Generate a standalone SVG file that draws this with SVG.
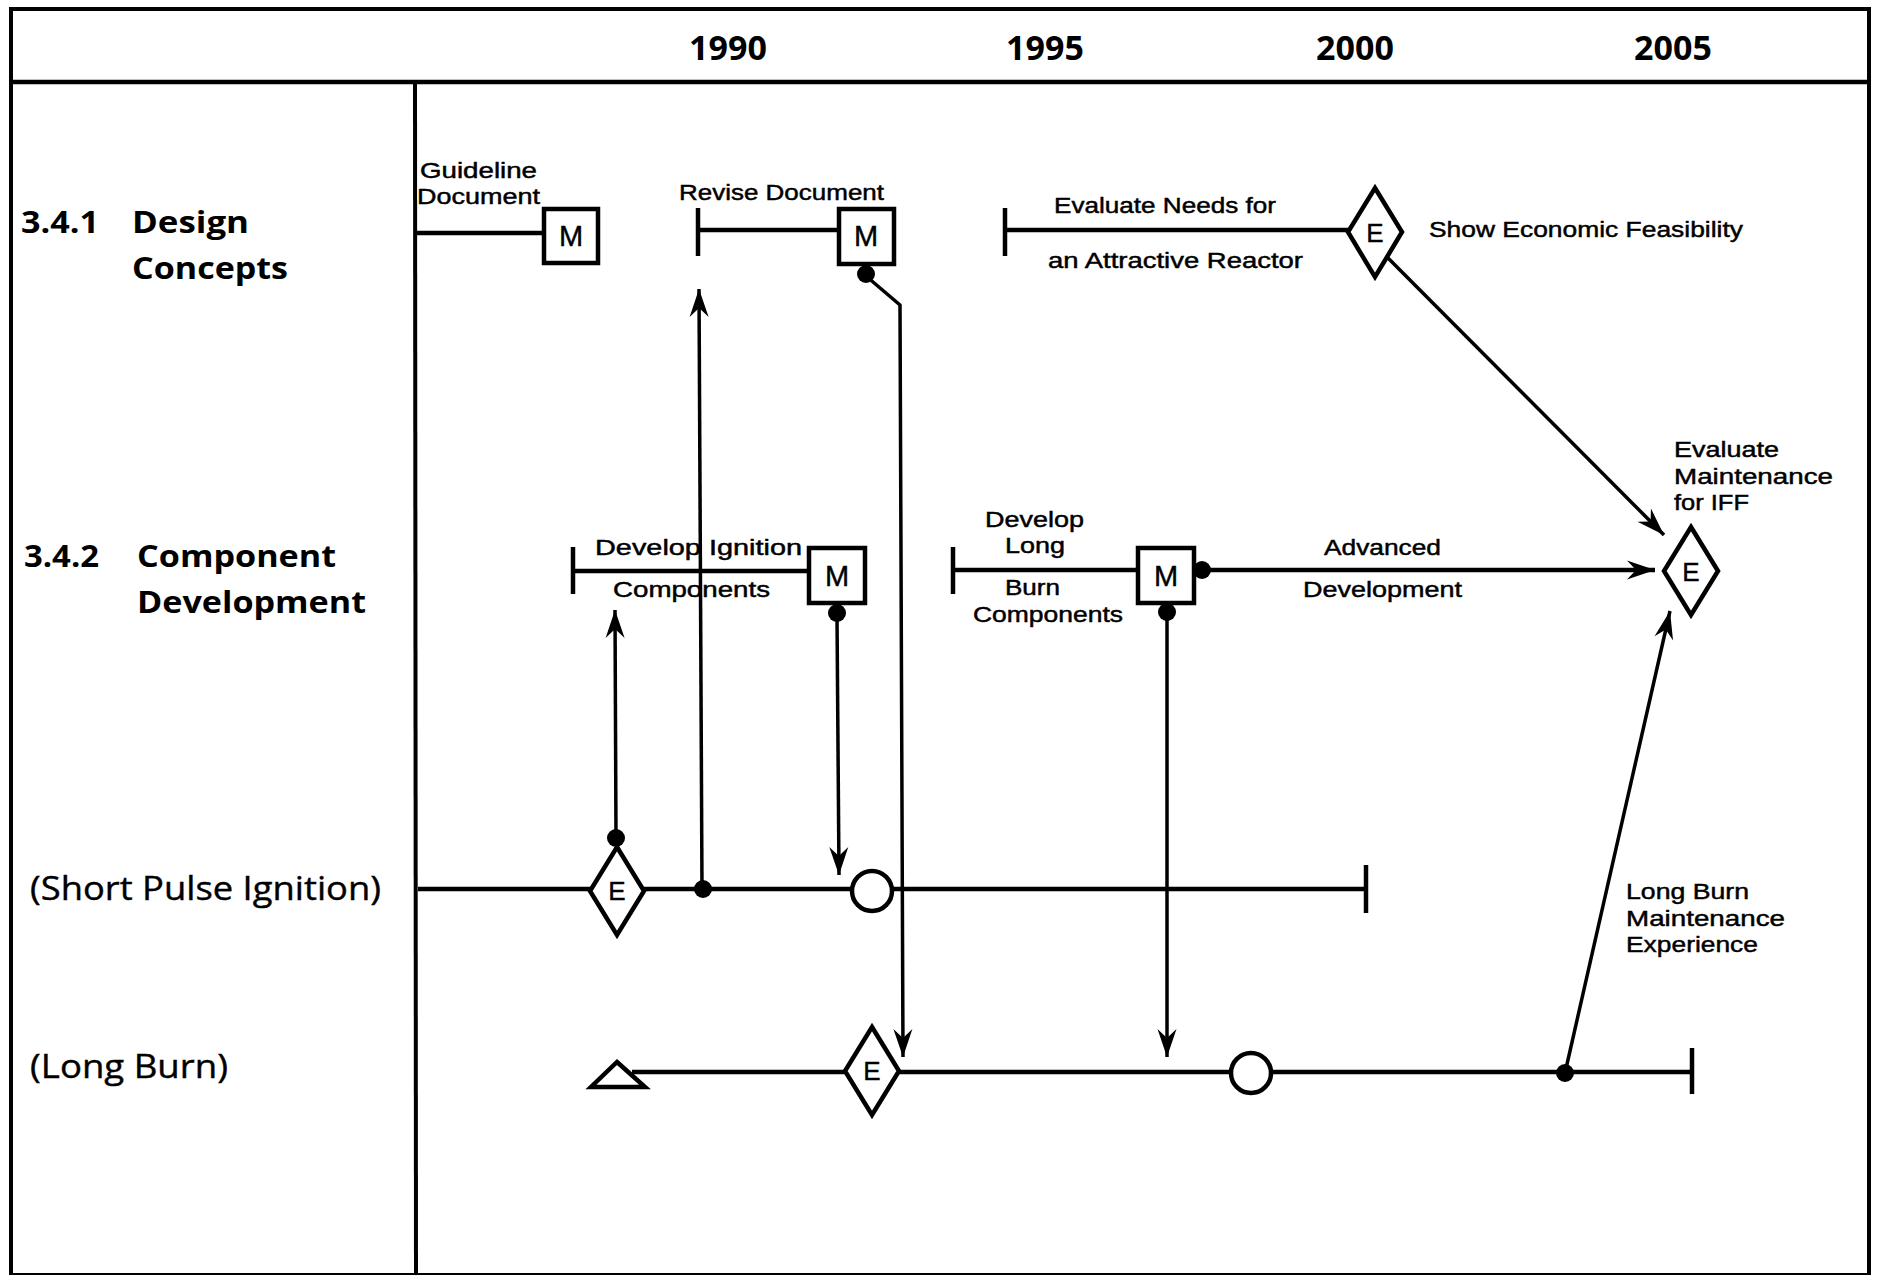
<svg xmlns="http://www.w3.org/2000/svg" width="1884" height="1275" viewBox="0 0 1884 1275">
<style>
  .t{font-family:"Open Sans","Liberation Sans",sans-serif;fill:#000}
  .yr{font-size:34px;font-weight:bold;text-anchor:middle}
  .hd{font-size:31px;font-weight:bold}
  .rl{font-size:32px;stroke:#000;stroke-width:0.4}
  .sm{font-family:"Liberation Sans",Arial,sans-serif;font-size:21.5px;stroke:#000;stroke-width:0.45}
  .nl{font-family:"Liberation Sans",Arial,sans-serif;font-size:29px;text-anchor:middle;stroke:#000;stroke-width:0.4}
  .el{font-size:26px}
  .ln{stroke:#000;stroke-width:4.5;fill:none}
  .cn{stroke:#000;stroke-width:3.5;fill:none}
  .bx{stroke:#000;stroke-width:4.5;fill:#fff}
  .dot{fill:#000}
</style>
<defs>
  <marker id="arr" markerUnits="userSpaceOnUse" markerWidth="32" markerHeight="22" viewBox="-30 -11 32 22" refX="0" refY="0" orient="auto">
    <path d="M0,0 L-28,-9.5 L-19,0 L-28,9.5 Z" fill="#000"/>
  </marker>
</defs>
<rect width="1884" height="1275" fill="#fff"/>
<g id="frame">
  <rect x="11" y="9" width="1858" height="1266" fill="none" stroke="#000" stroke-width="4"/>
  <line x1="11" y1="82" x2="1869" y2="82" stroke="#000" stroke-width="4.5"/>
  <line x1="415" y1="82" x2="416" y2="1275" stroke="#000" stroke-width="4"/>
</g>
<g id="years">
  <text class="t yr" x="728" y="60">1990</text>
  <text class="t yr" x="1045" y="60">1995</text>
  <text class="t yr" x="1355" y="60">2000</text>
  <text class="t yr" x="1673" y="60">2005</text>
</g>
<g id="row-labels">
  <text class="t hd" x="21" y="233" textLength="78" lengthAdjust="spacingAndGlyphs">3.4.1</text>
  <text class="t hd" x="132" y="233" textLength="117" lengthAdjust="spacingAndGlyphs">Design</text>
  <text class="t hd" x="132" y="279" textLength="156" lengthAdjust="spacingAndGlyphs">Concepts</text>
  <text class="t hd" x="24" y="567" textLength="75" lengthAdjust="spacingAndGlyphs">3.4.2</text>
  <text class="t hd" x="137" y="567" textLength="199" lengthAdjust="spacingAndGlyphs">Component</text>
  <text class="t hd" x="137" y="613" textLength="229" lengthAdjust="spacingAndGlyphs">Development</text>
  <text class="t rl" x="30" y="900" textLength="351" lengthAdjust="spacingAndGlyphs">(Short Pulse Ignition)</text>
  <text class="t rl" x="30" y="1078" textLength="198" lengthAdjust="spacingAndGlyphs">(Long Burn)</text>
</g>
<g id="bars">
  <line class="ln" x1="416" y1="233" x2="544" y2="233"/>
  <line class="ln" x1="698" y1="208" x2="698" y2="256"/>
  <line class="ln" x1="698" y1="230" x2="839" y2="230"/>
  <line class="ln" x1="1005" y1="208" x2="1005" y2="256"/>
  <line class="ln" x1="1005" y1="230" x2="1348" y2="230"/>
  <line class="ln" x1="573" y1="547" x2="573" y2="594"/>
  <line class="ln" x1="573" y1="571" x2="809" y2="571"/>
  <line class="ln" x1="953" y1="547" x2="953" y2="594"/>
  <line class="ln" x1="953" y1="570" x2="1138" y2="570"/>
  <line class="ln" x1="418" y1="889" x2="590" y2="889"/>
  <line class="ln" x1="644" y1="889" x2="852" y2="889"/>
  <line class="ln" x1="892" y1="889" x2="1366" y2="889"/>
  <line class="ln" x1="1366" y1="865" x2="1366" y2="913"/>
  <line class="ln" x1="632" y1="1072" x2="845" y2="1072"/>
  <line class="ln" x1="899" y1="1072" x2="1232" y2="1072"/>
  <line class="ln" x1="1270" y1="1072" x2="1692" y2="1072"/>
  <line class="ln" x1="1692" y1="1048" x2="1692" y2="1094"/>
</g>
<g id="connectors">
  <line class="cn" x1="702" y1="889" x2="699" y2="289" marker-end="url(#arr)"/>
  <polyline class="cn" points="866,276 900,305 903,1057" marker-end="url(#arr)"/>
  <line class="cn" x1="837" y1="617" x2="839" y2="875" marker-end="url(#arr)"/>
  <line class="cn" x1="616" y1="838" x2="615" y2="610" marker-end="url(#arr)"/>
  <line class="cn" x1="1167" y1="613" x2="1167" y2="1057" marker-end="url(#arr)"/>
  <line class="ln" x1="1203" y1="570" x2="1655" y2="570" marker-end="url(#arr)"/>
  <line class="cn" x1="1387" y1="257" x2="1664" y2="535" marker-end="url(#arr)"/>
  <line class="cn" x1="1565" y1="1073" x2="1670" y2="611" marker-end="url(#arr)"/>
  <circle class="dot" cx="866" cy="274" r="9"/>
  <circle class="dot" cx="837" cy="613" r="9"/>
  <circle class="dot" cx="616" cy="838" r="9"/>
  <circle class="dot" cx="703" cy="889" r="9"/>
  <circle class="dot" cx="1167" cy="612" r="9"/>
  <circle class="dot" cx="1202" cy="570" r="9"/>
  <circle class="dot" cx="1565" cy="1073" r="9"/>
</g>
<g id="m-guideline">
  <rect class="bx" x="544" y="209" width="54" height="54"/>
  <text class="t nl" x="571" y="246">M</text>
</g>
<g id="m-revise">
  <rect class="bx" x="839" y="209" width="55" height="55"/>
  <text class="t nl" x="866" y="246">M</text>
</g>
<g id="e-feasibility">
  <polygon class="bx" points="1375,188 1402,232 1375,277 1348,232"/>
  <text class="t nl el" x="1375" y="242">E</text>
</g>
<g id="m-ignition">
  <rect class="bx" x="809" y="548" width="56" height="55"/>
  <text class="t nl" x="837" y="586">M</text>
</g>
<g id="m-longburn">
  <rect class="bx" x="1138" y="548" width="56" height="55"/>
  <text class="t nl" x="1166" y="586">M</text>
</g>
<g id="e-iff">
  <polygon class="bx" points="1691,527 1718,571 1691,615 1664,571"/>
  <text class="t nl el" x="1691" y="581">E</text>
</g>
<g id="e-shortpulse">
  <polygon class="bx" points="617,847 644,891 617,935 590,891"/>
  <text class="t nl el" x="617" y="900">E</text>
</g>
<g id="o-shortpulse">
  <circle class="bx" cx="872" cy="891" r="20"/>
</g>
<g id="e-longburn">
  <polygon class="bx" points="872,1027 899,1071 872,1115 845,1071"/>
  <text class="t nl el" x="872" y="1080">E</text>
</g>
<g id="o-longburn">
  <circle class="bx" cx="1251" cy="1073" r="20"/>
</g>
<g id="tri-longburn">
  <polygon class="bx" points="617,1062 645,1087 591,1087"/>
</g>
<g id="labels">
  <text class="t sm" x="420" y="178" textLength="117" lengthAdjust="spacingAndGlyphs">Guideline</text>
  <text class="t sm" x="417" y="204" textLength="123" lengthAdjust="spacingAndGlyphs">Document</text>
  <text class="t sm" x="679" y="200" textLength="205" lengthAdjust="spacingAndGlyphs">Revise Document</text>
  <text class="t sm" x="1054" y="213" textLength="222" lengthAdjust="spacingAndGlyphs">Evaluate Needs for</text>
  <text class="t sm" x="1048" y="268" textLength="255" lengthAdjust="spacingAndGlyphs">an Attractive Reactor</text>
  <text class="t sm" x="1429" y="237" textLength="314" lengthAdjust="spacingAndGlyphs">Show Economic Feasibility</text>
  <text class="t sm" x="1674" y="457" textLength="105" lengthAdjust="spacingAndGlyphs">Evaluate</text>
  <text class="t sm" x="1674" y="484" textLength="159" lengthAdjust="spacingAndGlyphs">Maintenance</text>
  <text class="t sm" x="1674" y="510" textLength="75" lengthAdjust="spacingAndGlyphs">for IFF</text>
  <text class="t sm" x="595" y="555" textLength="207" lengthAdjust="spacingAndGlyphs">Develop Ignition</text>
  <text class="t sm" x="613" y="597" textLength="157" lengthAdjust="spacingAndGlyphs">Components</text>
  <text class="t sm" x="985" y="527" textLength="99" lengthAdjust="spacingAndGlyphs">Develop</text>
  <text class="t sm" x="1005" y="553" textLength="60" lengthAdjust="spacingAndGlyphs">Long</text>
  <text class="t sm" x="1005" y="595" textLength="55" lengthAdjust="spacingAndGlyphs">Burn</text>
  <text class="t sm" x="973" y="622" textLength="150" lengthAdjust="spacingAndGlyphs">Components</text>
  <text class="t sm" x="1324" y="555" textLength="117" lengthAdjust="spacingAndGlyphs">Advanced</text>
  <text class="t sm" x="1303" y="597" textLength="159" lengthAdjust="spacingAndGlyphs">Development</text>
  <text class="t sm" x="1626" y="899" textLength="123" lengthAdjust="spacingAndGlyphs">Long Burn</text>
  <text class="t sm" x="1626" y="926" textLength="159" lengthAdjust="spacingAndGlyphs">Maintenance</text>
  <text class="t sm" x="1626" y="952" textLength="132" lengthAdjust="spacingAndGlyphs">Experience</text>
</g>
</svg>
